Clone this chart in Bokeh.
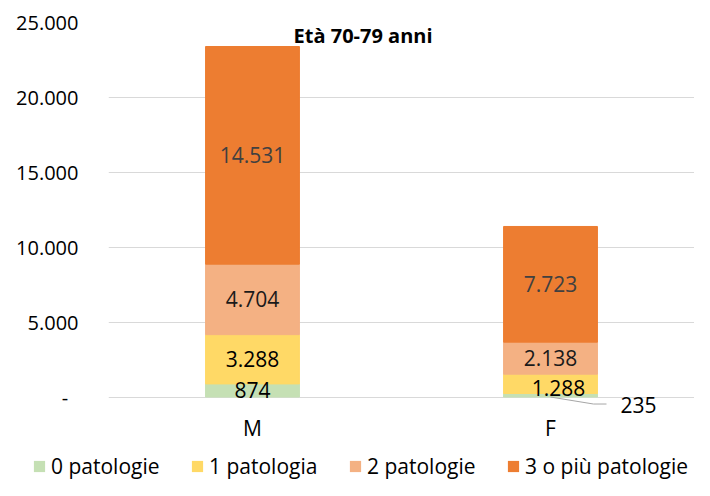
from bokeh.plotting import figure
from bokeh.layouts import column
from bokeh.models import (ColumnDataSource, FactorRange, Range1d, FixedTicker,
                          CustomJSTickFormatter, Legend, LegendItem, Label)
from bokeh.core.properties import value
from bokeh.embed import file_html
from bokeh.resources import INLINE

# ---------------- data ----------------
categories = ["M", "F"]
series_names = ["0 patologie", "1 patologia", "2 patologie", "3 o più patologie"]
pat_0 = [874, 235]
pat_1 = [3288, 1288]
pat_2 = [4704, 2138]
pat_3 = [14531, 7723]
y_ticks = [0, 5000, 10000, 15000, 20000, 25000]
chart_title = "Età 70-79 anni"

# ---------------- style ----------------
series_colors = ["#C5E0B4", "#FFD966", "#F4B183", "#ED7D31"]
label_colors = ["#000000", "#000000", "#1a1a1a", "#404040"]
FONT = "Open Sans"
W, H1, H2 = 694, 450, 30
ML, MR, MT, MB = 108, 0, 22, 37
Y0, Y1 = -1100, 25000
XPAD = -0.0168
frame_w = W - ML - MR
frame_h = H1 - MT - MB
y_per_px = (Y1 - Y0) / frame_h
x_per_px = len(categories) * (1 + XPAD) / frame_w

keys = ["p0", "p1", "p2", "p3"]
series_vals = [pat_0, pat_1, pat_2, pat_3]
source = ColumnDataSource(dict(cat=categories, p0=pat_0, p1=pat_1, p2=pat_2, p3=pat_3))

p = figure(x_range=FactorRange(*categories, range_padding=XPAD),
           y_range=Range1d(Y0, Y1),
           width=W, height=H1, output_backend="svg", toolbar_location=None,
           min_border_left=ML, min_border_right=MR, min_border_top=MT,
           min_border_bottom=MB, outline_line_color=None,
           background_fill_color="white", border_fill_color="white")
p.frame_align = False

renderers = p.vbar_stack(keys, x="cat", width=0.315, color=series_colors,
                         source=source)

# ---------------- data labels ----------------
lx, ly, lt, lc, lxo, lyo = [], [], [], [], [], []
leader_xs, leader_ys = [], []
for ci, cat in enumerate(categories):
    base = 0
    prev_outside = False
    xc = ci + 0.5
    for si, vals in enumerate(series_vals):
        v = vals[ci]
        txt = f"{v:,}".replace(",", ".")
        if v / y_per_px < 8:
            lx.append(xc); ly.append(base); lxo.append(88); lyo.append(8)
            leader_xs.append([xc, xc + 43 * x_per_px, xc + 56 * x_per_px])
            leader_ys.append([base, base - 7 * y_per_px, base - 7 * y_per_px])
            prev_outside = True
        else:
            lx.append(xc); ly.append(base + v / 2)
            if prev_outside:
                lxo.append(8); lyo.append(4)
            else:
                lxo.append(0); lyo.append(0)
            prev_outside = False
        lt.append(txt)
        lc.append(label_colors[si])
        base += v

p.multi_line(xs=leader_xs, ys=leader_ys, line_color="#a6a6a6", line_width=1)
lab_src = ColumnDataSource(dict(x=lx, y=ly, t=lt, c=lc, xo=lxo, yo=lyo))
p.text(x="x", y="y", text="t", text_color="c", x_offset="xo", y_offset="yo",
       source=lab_src, text_font=value(FONT), text_font_size="21px",
       text_align="center", text_baseline="middle")

# ---------------- title ----------------
p.add_layout(Label(x=0.871, y=24130, text=chart_title, text_font=FONT,
                   text_font_size="20px", text_font_style="bold",
                   text_color="#000000", text_align="center",
                   text_baseline="alphabetic"))

# ---------------- axes & grid ----------------
p.yaxis.ticker = FixedTicker(ticks=y_ticks)
p.yaxis.formatter = CustomJSTickFormatter(code=r"""
if (tick == 0) { return '-\u00a0\u00a0'; }
return Math.round(tick).toString().replace(/\B(?=(\d{3})+(?!\d))/g, '.');
""")
p.yaxis.axis_line_color = None
p.yaxis.major_tick_line_color = None
p.yaxis.minor_tick_line_color = None
p.yaxis.major_tick_out = 0
p.yaxis.major_tick_in = 0
p.yaxis.major_label_standoff = 30
p.yaxis.major_label_text_font = FONT
p.yaxis.major_label_text_font_size = "20px"
p.yaxis.major_label_text_color = "#000000"

p.xaxis.axis_line_color = None
p.xaxis.major_tick_line_color = None
p.xaxis.minor_tick_line_color = None
p.xaxis.major_tick_out = 0
p.xaxis.major_tick_in = 0
p.xaxis.major_label_standoff = 0
p.xaxis.major_label_text_font = FONT
p.xaxis.major_label_text_font_size = "21px"
p.xaxis.major_label_text_color = "#000000"

p.xgrid.grid_line_color = None
p.ygrid.ticker = FixedTicker(ticks=y_ticks)
p.ygrid.grid_line_color = "#d9d9d9"
p.ygrid.grid_line_width = 1

# ---------------- legend (own strip below the chart) ----------------
pl = figure(width=W, height=H2, x_range=(0, 1), y_range=(0, 1),
            output_backend="svg", toolbar_location=None,
            x_axis_location=None, y_axis_location=None,
            min_border=0, min_border_left=0, min_border_right=0,
            min_border_top=0, min_border_bottom=0,
            outline_line_color=None, background_fill_color="white",
            border_fill_color="white")
pl.frame_align = False
pl.xgrid.visible = False
pl.ygrid.visible = False
# legend proxies: zero-height bars (nothing drawn), only their colours are used
proxies = [pl.vbar(x=[0.5], top=[0], bottom=[0], width=0.0, fill_color=c,
                   line_color=None) for c in series_colors]
legend = Legend(items=[LegendItem(label=n, renderers=[r])
                       for n, r in zip(series_names, proxies)],
                orientation="horizontal", location=(32, 0),
                glyph_width=14, glyph_height=14, label_standoff=5,
                spacing=0, label_width=139, padding=0, margin=0,
                border_line_color=None, background_fill_alpha=0,
                label_text_font=FONT, label_text_font_size="21px",
                label_text_color="#000000")
pl.add_layout(legend, "center")

layout = column(p, pl, spacing=0)
open("out.html", "w").write(file_html(layout, INLINE))
